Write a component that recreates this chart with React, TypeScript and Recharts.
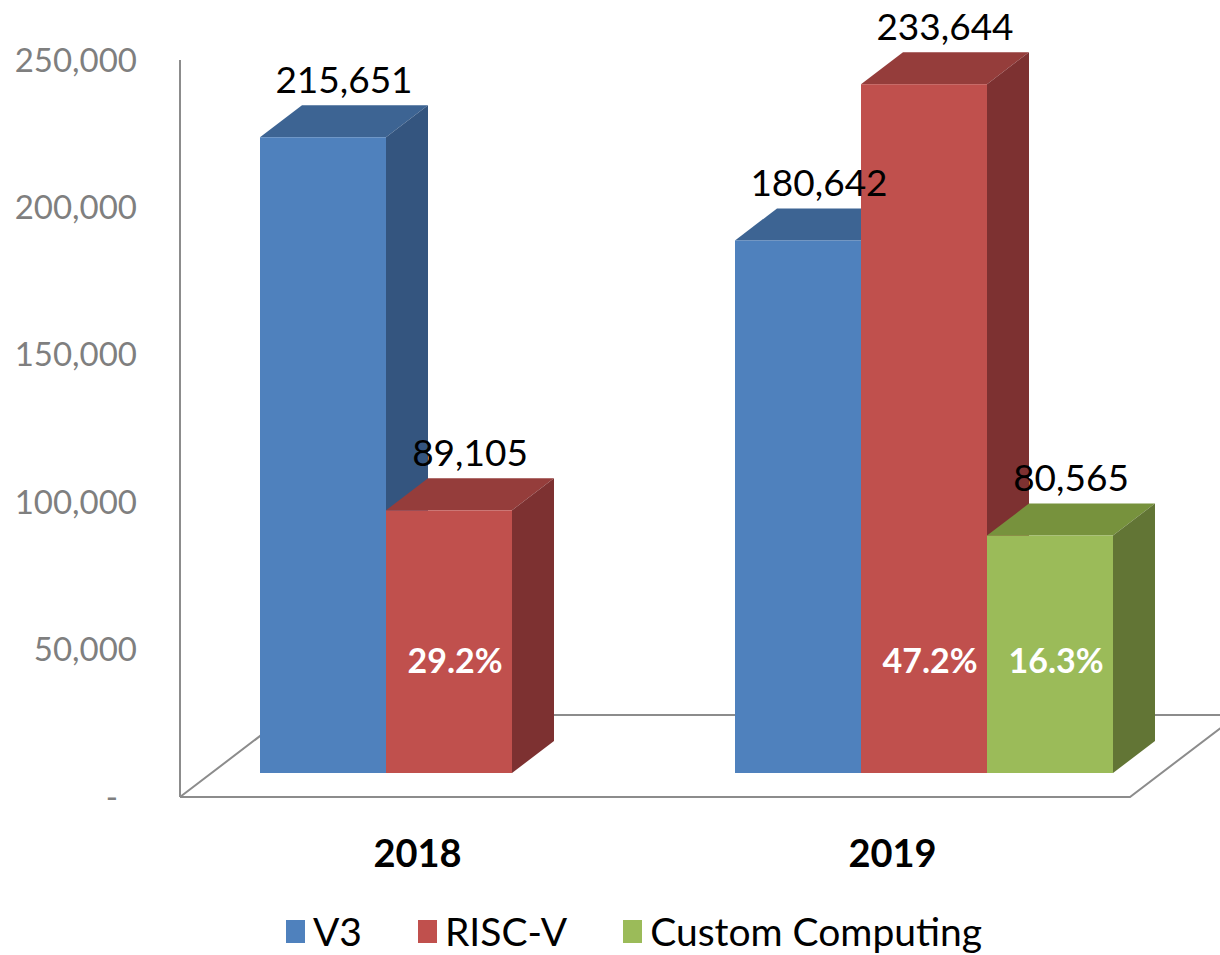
import React from 'react';
import { BarChart, Bar, XAxis, YAxis, Legend, LabelList } from 'recharts';

const years = ['2018', '2019'];
const v3Values = [215651, 180642];
const riscvValues = [89105, 233644];
const customValues: (number | null)[] = [null, 80565];
const riscvShare = ['29.2%', '47.2%'];
const customShare: (string | null)[] = [null, '16.3%'];
const yTicks = [0, 50000, 100000, 150000, 200000, 250000];
const seriesNames = ['V3', 'RISC-V', 'Custom Computing'];

const data = years.map((year, i) => ({
  year,
  v3: v3Values[i],
  riscv: riscvValues[i],
  custom: customValues[i],
  riscvPct: riscvShare[i],
  customPct: customShare[i],
}));

const FONT = "Lato, 'Open Sans', sans-serif";
const W = 1220;
const H = 955;
const LEFT = 180;
const RIGHT = 1130;
const TOP = 60;
const BOTTOM = 797;
// bar front face sits this far behind the axis plane
const OFF_X = 32;
const OFF_Y = 24;
// depth of each bar
const DEPTH_X = 42;
const DEPTH_Y = 32;
// depth of the floor
const FLOOR_Y = 82;
const FLOOR_X = (FLOOR_Y * DEPTH_X) / DEPTH_Y;

const shades: Record<string, { front: string; top: string; side: string }> = {
  v3: { front: '#4F81BD', top: '#3D6493', side: '#34557F' },
  riscv: { front: '#C0504D', top: '#953D3B', side: '#7D3131' },
  custom: { front: '#9BBB59', top: '#77923D', side: '#627535' },
};
const seriesKeys = ['v3', 'riscv', 'custom'];

const makeShape = (key: string) => (props: any) => {
  const { x, y, width, height, value } = props;
  if (value == null || !height) return <g />;
  const c = shades[key];
  const fx = x + OFF_X;
  const fy = y - OFF_Y;
  const r = fx + width;
  const b = fy + height;
  return (
    <g>
      <polygon
        points={`${fx},${fy} ${fx + DEPTH_X},${fy - DEPTH_Y} ${r + DEPTH_X},${fy - DEPTH_Y} ${r},${fy}`}
        fill={c.top}
      />
      <polygon
        points={`${r},${fy} ${r + DEPTH_X},${fy - DEPTH_Y} ${r + DEPTH_X},${b - DEPTH_Y} ${r},${b}`}
        fill={c.side}
      />
      <rect x={fx} y={fy} width={width} height={height} fill={c.front} />
    </g>
  );
};

const valueLabel = (props: any) => {
  const { x, y, width, value } = props;
  if (value == null) return null;
  return (
    <text
      x={x + OFF_X + width / 2 + DEPTH_X / 2}
      y={y - OFF_Y - DEPTH_Y - 12}
      textAnchor="middle"
      fontFamily={FONT}
      fontSize={37}
      fill="#000"
    >
      {Number(value).toLocaleString('en-US')}
    </text>
  );
};

const shareLabel = (props: any) => {
  const { x, y, width, height, value } = props;
  if (value == null) return null;
  return (
    <text
      x={x + OFF_X + width / 2 + 6}
      y={y + height - OFF_Y - 112}
      dy="0.35em"
      textAnchor="middle"
      fontFamily={FONT}
      fontWeight="bold"
      fontSize={34}
      fill="#fff"
    >
      {value}
    </text>
  );
};

const YTick = (props: any) => {
  const { x, y, payload } = props;
  const v = payload.value;
  return (
    <text
      x={v === 0 ? x - 62 : x - 43}
      y={y}
      dy="0.35em"
      textAnchor="end"
      fontFamily={FONT}
      fontSize={33}
      fill="#7F7F7F"
    >
      {v === 0 ? '-' : v.toLocaleString('en-US')}
    </text>
  );
};

const XTick = (props: any) => {
  const { x, y, payload } = props;
  return (
    <text
      x={x}
      y={y + 70}
      textAnchor="middle"
      fontFamily={FONT}
      fontWeight="bold"
      fontSize={38}
      fill="#000"
    >
      {payload.value}
    </text>
  );
};

const LegendContent = () => (
  <div
    style={{
      display: 'flex',
      justifyContent: 'center',
      alignItems: 'center',
      paddingLeft: 48,
      fontFamily: FONT,
      fontSize: 39,
      color: '#000',
    }}
  >
    {seriesNames.map((name, i) => (
      <div key={name} style={{ display: 'flex', alignItems: 'center', margin: '0 28px' }}>
        <span
          style={{
            display: 'inline-block',
            width: 19,
            height: 23,
            background: shades[seriesKeys[i]].front,
            marginRight: 8,
          }}
        />
        <span>{name}</span>
      </div>
    ))}
  </div>
);

const Floor = () => (
  <g stroke="#8C8C8C" strokeWidth={2} fill="none">
    <polyline
      points={`${LEFT},${BOTTOM} ${LEFT + FLOOR_X},${BOTTOM - FLOOR_Y} ${RIGHT + FLOOR_X},${BOTTOM - FLOOR_Y}`}
    />
    <polyline
      points={`${LEFT},${BOTTOM} ${RIGHT},${BOTTOM} ${RIGHT + FLOOR_X},${BOTTOM - FLOOR_Y}`}
    />
  </g>
);

export default function App() {
  return (
    <div style={{ width: W, height: H, background: '#fff' }}>
      <style>{'body{margin:0}'}</style>
      <BarChart
        width={W}
        height={H}
        data={data}
        margin={{ top: TOP, right: W - RIGHT, bottom: H - BOTTOM - 60, left: 0 }}
        barCategoryGap={48}
        barGap={0}
      >
        <Floor />
        <XAxis
          dataKey="year"
          height={60}
          axisLine={false}
          tickLine={false}
          tickSize={0}
          tickMargin={0}
          tick={<XTick />}
        />
        <YAxis
          width={LEFT}
          domain={[0, 250000]}
          ticks={yTicks}
          axisLine={{ stroke: '#8C8C8C', strokeWidth: 2 }}
          tickLine={false}
          tickSize={0}
          tickMargin={0}
          tick={<YTick />}
        />
        <Legend
          layout="horizontal"
          verticalAlign="middle"
          align="center"
          wrapperStyle={{ top: 908, left: 0, width: W }}
          content={<LegendContent />}
        />
        <Bar dataKey="v3" name={seriesNames[0]} fill={shades.v3.front} shape={makeShape('v3')} isAnimationActive={false}>
          <LabelList dataKey="v3" content={valueLabel} />
        </Bar>
        <Bar dataKey="riscv" name={seriesNames[1]} fill={shades.riscv.front} shape={makeShape('riscv')} isAnimationActive={false}>
          <LabelList dataKey="riscv" content={valueLabel} />
          <LabelList dataKey="riscvPct" content={shareLabel} />
        </Bar>
        <Bar dataKey="custom" name={seriesNames[2]} fill={shades.custom.front} shape={makeShape('custom')} isAnimationActive={false}>
          <LabelList dataKey="custom" content={valueLabel} />
          <LabelList dataKey="customPct" content={shareLabel} />
        </Bar>
      </BarChart>
    </div>
  );
}
